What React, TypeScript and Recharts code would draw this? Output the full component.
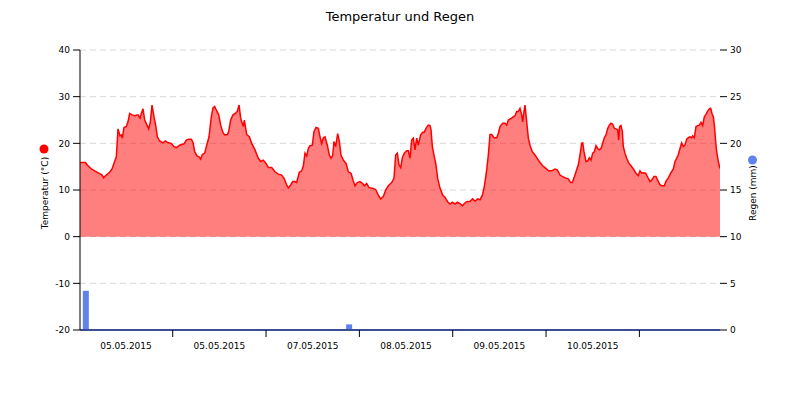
import React from "react";
import { ComposedChart, Area, Bar, XAxis, YAxis, CartesianGrid, ReferenceLine } from "recharts";

const chartTitle = "Temperatur und Regen";
const tempLabel = "Temperatur (°C)";
const rainLabel = "Regen (mm)";

// hours since start of the record
const tempHours = [
  0, 1.37, 2.06, 2.92, 4.2, 5.06, 5.66, 6.09, 6.77, 7.63,
  8.23, 8.91, 9.34, 9.77, 10.29, 10.63, 10.89, 11.31, 11.91, 12.34,
  12.77, 13.37, 14.06, 14.91, 15.43, 15.77, 16.2, 16.63, 17.23, 17.66,
  18.09, 18.51, 19.03, 19.46, 19.89, 20.49, 21.34, 21.94, 22.63, 23.49,
  24.17, 24.77, 25.63, 26.74, 27.34, 27.94, 28.63, 29.06, 29.49, 30.09,
  30.6, 31.03, 31.46, 32.06, 32.49, 33.17, 33.77, 34.2, 34.63, 35.06,
  35.66, 36.17, 36.77, 37.2, 37.89, 38.23, 38.74, 39.34, 39.94, 40.46,
  40.9, 41.3, 41.57, 42, 42.26, 42.86, 43.54, 44.14, 45, 45.86,
  46.46, 47.14, 47.83, 48.43, 49.29, 50.14, 51, 51.86, 52.46, 53.14,
  53.57, 54, 54.69, 55.29, 55.71, 56.4, 57, 57.43, 57.86, 58.29,
  58.71, 59.14, 59.74, 60.17, 60.69, 61.29, 61.71, 62.14, 62.57, 63,
  63.6, 64.11, 64.54, 64.97, 65.31, 65.74, 66.26, 66.69, 67.11, 67.71,
  68.4, 69, 69.69, 70.29, 70.71, 71.31, 72, 72.69, 73.11, 73.71,
  74.31, 75.17, 76.03, 76.71, 77.31, 78, 78.6, 79.29, 80.14, 80.74,
  81.17, 81.6, 82.03, 82.46, 82.89, 83.4, 84, 84.43, 84.86, 85.29,
  85.71, 86.14, 86.57, 87, 87.6, 88.11, 88.54, 88.97, 89.57, 90,
  90.26, 90.6, 91.11, 91.54, 91.97, 92.57, 93.26, 93.86, 94.54, 95.14,
  95.74, 96.43, 97.03, 97.71, 98.31, 98.83, 99.43, 100.29, 100.97, 101.57,
  102.26, 102.86, 103.46, 103.97, 104.57, 105, 105.43, 105.86, 106.46, 107.14,
  107.57, 108, 108.69, 109.29, 109.71, 110.14, 111, 111.43, 111.86, 112.29,
  112.71, 113.14, 113.57, 113.83, 114.17, 114.43, 114.86, 115.29, 115.71, 116.31,
  117, 117.69, 118.29, 118.97, 119.57, 120.43, 121.29, 122.14, 122.74, 123.43,
  124.03, 124.97, 125.57, 126.17, 126.6, 127.03, 127.54, 128.14, 128.57, 129,
  129.26, 129.6, 130.11, 130.54, 130.97, 131.4, 131.83, 132.26, 132.69, 133.11,
  133.54, 133.97, 134.4, 134.83, 135.26, 135.69, 136.11, 136.54, 136.97, 137.4,
  137.83, 138.26, 138.51, 138.77, 139.11, 139.46, 139.71, 140.14, 140.57, 141.17,
  141.69, 142.29, 142.97, 143.57, 144, 144.43, 144.86, 145.46, 145.89, 146.57,
  147, 147.6, 148.11, 148.54, 149.14, 149.74, 150.26, 150.69, 151.29, 151.89,
  152.57, 153, 153.43, 153.86, 154.29, 154.71, 155.14, 155.57, 156, 156.43,
  156.86, 157.29, 157.54, 157.97, 158.4, 158.83, 159.26, 159.69, 160.11, 160.54,
  160.97, 161.4, 161.83, 162.17, 162.51, 162.86, 163.11, 163.46, 163.71, 164.14,
  164.57,
];

// temperature in °C
const tempValues = [
  15.9, 15.9, 15.2, 14.5, 13.9, 13.5, 13.2, 12.6, 13.2, 13.8,
  14.5, 16.1, 17.1, 23.1, 21.6, 21.8, 21.1, 23.4, 23.6, 24.6,
  26.4, 26.1, 25.9, 26.1, 25.4, 26.4, 27.4, 25, 23.9, 23.1,
  24.6, 28.2, 25.7, 23.9, 21.4, 20.5, 20.1, 20.5, 20.1, 20,
  19.3, 19.1, 19.6, 19.9, 20.7, 20.9, 20.9, 20.2, 18.2, 17.3,
  17.1, 16.6, 17.6, 17.9, 19.3, 21.4, 25.7, 27.6, 27.9, 27.1,
  26.1, 23.9, 22.3, 21.8, 21.9, 22.5, 25, 26.1, 26.4, 26.9,
  28.2, 25.5, 24.6, 23.6, 25, 21.9, 21.4, 20, 18.6, 16.8,
  16.1, 16.4, 15.7, 14.8, 14.8, 13.9, 13.4, 13.2, 12.5, 11.1,
  10.4, 10.9, 11.8, 11.8, 11.6, 13.8, 14.1, 15.2, 17.9, 17.3,
  18.9, 19.5, 19.6, 22.5, 23.4, 23.2, 21.4, 20, 21.2, 21.4,
  19.6, 17.5, 16.8, 17.4, 20.4, 19.3, 22.1, 20.4, 17.5, 16.4,
  15.7, 13.9, 13.6, 11.9, 10.9, 11.6, 11.8, 11.4, 10.9, 11.4,
  10.5, 10.4, 10.1, 8.9, 8.1, 8.6, 10, 10.9, 11.6, 12.5,
  17.5, 17.9, 15.4, 14.8, 16.9, 17.9, 18.4, 18.4, 16.8, 20.7,
  21.1, 18.6, 21.1, 19.6, 21.8, 22.4, 22.4, 23.2, 23.9, 23.8,
  22.9, 19.3, 17.1, 15.4, 12.5, 10.4, 8.9, 8.4, 7.5, 7,
  7.4, 7, 7.4, 7.1, 6.6, 7.1, 7.5, 7.6, 8.1, 7.6,
  8.1, 7.9, 8.9, 10.7, 14.3, 17.5, 21.9, 21.9, 21.2, 21.2,
  22.1, 23.6, 24.3, 24.3, 23.9, 25, 25.4, 25.7, 25.9, 26.8,
  26.8, 27.5, 26.1, 24.6, 26.8, 28.2, 24.6, 21.1, 19.6, 18.2,
  17.5, 16.6, 15.9, 15.2, 14.8, 14.1, 14.1, 14.5, 14.3, 13.2,
  12.9, 12.5, 12.4, 11.6, 11.6, 12.6, 13.9, 15.4, 17.5, 20,
  20.1, 18.2, 16.1, 16.2, 16.9, 16.4, 17.9, 18.2, 19.5, 18.9,
  18.6, 18.9, 20, 21.2, 21.8, 23.2, 23.9, 24.3, 24.1, 23.2,
  23.1, 22.9, 20.7, 23.6, 23.8, 22.5, 19.3, 17.9, 16.8, 15.7,
  15.2, 14.5, 13.6, 13.1, 14.1, 13.6, 13.7, 13.6, 12.9, 11.8,
  12.1, 12.9, 12.9, 12.1, 11.1, 10.9, 10.9, 11.9, 12.6, 13.6,
  14.5, 16.1, 16.8, 17.6, 18.9, 20.1, 19.3, 19.6, 20.9, 21.2,
  21.4, 21.2, 21.6, 21.2, 23.6, 23.8, 23.9, 24.5, 23.8, 25.7,
  26.2, 26.9, 27.4, 27.5, 26.4, 25.7, 23.9, 20.4, 18.2, 16.1,
  14.6,
];

const rainHours = [1.5, 69.2];
const rainValues = [4.2, 0.6];

const dayTickHours = [23.84, 47.84, 71.84, 95.84, 119.84, 143.84];
const dayTickLabels = ["05.05.2015", "05.05.2015", "07.05.2015", "08.05.2015", "09.05.2015", "10.05.2015"];
const tempTicks = [-20, -10, 0, 10, 20, 30, 40];
const rainTicks = [0, 5, 10, 15, 20, 25, 30];

const rows: any[] = [
  ...tempHours.map((t, i) => ({ t, temp: tempValues[i] })),
  ...rainHours.map((t, i) => ({ t, rain: rainValues[i] })),
].sort((a, b) => a.t - b.t);

const FONT = "'DejaVu Sans', Verdana, sans-serif";
const W = 800;
const H = 400;
const PLOT_LEFT = 80;
const PLOT_RIGHT = 720;
const DOMAIN_END = 164.57;
const halfDayPx = ((PLOT_RIGHT - PLOT_LEFT) / DOMAIN_END) * 12;
const RAIN_COLOR = "#5f82ec";
const BAR_W = 6;

const XTick = (props: any) => {
  const { x, y, payload } = props;
  const idx = dayTickHours.indexOf(payload.value);
  return (
    <text x={x - halfDayPx} y={y + 10} textAnchor="middle" fontSize={9} fontFamily={FONT} fill="#000">
      {dayTickLabels[idx]}
    </text>
  );
};

const RainBar = (props: any) => {
  const { x, y, width, height } = props;
  if (height == null || isNaN(height) || height <= 0) return <g />;
  const cx = x + (width || 0) / 2;
  return <rect x={cx - BAR_W / 2} y={y} width={BAR_W} height={height} fill={RAIN_COLOR} />;
};

const LeftLabel = (props: any) => {
  const vb = props.viewBox || { x: 20, y: 50, width: 60, height: 280 };
  const cy = vb.y + vb.height / 2;
  const cx = vb.x + 25;
  return (
    <g>
      <circle cx={cx - 1} cy={cy - 41} r={4.5} fill="#ff0000" />
      <text
        transform={`translate(${cx}, ${cy + 3}) rotate(-90)`}
        textAnchor="middle"
        dominantBaseline="central"
        fontSize={9}
        fontFamily={FONT}
        fill="#000"
      >
        {tempLabel}
      </text>
    </g>
  );
};

const RightLabel = (props: any) => {
  const vb = props.viewBox || { x: 720, y: 50, width: 60, height: 280 };
  const cy = vb.y + vb.height / 2;
  const cx = vb.x + 32.5;
  return (
    <g>
      <circle cx={cx} cy={cy - 30} r={4.5} fill={RAIN_COLOR} />
      <text
        transform={`translate(${cx}, ${cy + 3}) rotate(-90)`}
        textAnchor="middle"
        dominantBaseline="central"
        fontSize={9}
        fontFamily={FONT}
        fill="#000"
      >
        {rainLabel}
      </text>
    </g>
  );
};

export default function App() {
  return (
    <div style={{ position: "absolute", left: 0, top: 0, width: W, height: H, background: "#fff" }}>
      <div
        style={{
          position: "absolute",
          left: 0,
          top: 8,
          width: W,
          textAlign: "center",
          fontFamily: FONT,
          fontSize: 13,
          color: "#000",
          lineHeight: "18px",
        }}
      >
        {chartTitle}
      </div>
      <ComposedChart
        width={W}
        height={H}
        data={rows}
        margin={{ top: 50, right: 20, bottom: 40, left: 20 }}
        style={{ position: "absolute", left: 0, top: 0 }}
      >
        <CartesianGrid yAxisId="temp" vertical={false} stroke="#d8d8d8" strokeDasharray="6 4" />
        <ReferenceLine yAxisId="rain" y={0} stroke={RAIN_COLOR} strokeWidth={2} />
        <XAxis
          dataKey="t"
          type="number"
          domain={[0, DOMAIN_END]}
          ticks={dayTickHours}
          tick={<XTick />}
          tickSize={7}
          height={30}
          axisLine={{ stroke: "#1a1a3a" }}
          tickLine={{ stroke: "#000" }}
          allowDataOverflow
        />
        <YAxis
          yAxisId="temp"
          orientation="left"
          domain={[-20, 40]}
          ticks={tempTicks}
          width={60}
          tickSize={7}
          tickMargin={3}
          axisLine={{ stroke: "#000" }}
          tickLine={{ stroke: "#000" }}
          tick={{ fontSize: 9, fontFamily: FONT, fill: "#000" }}
          label={{ content: <LeftLabel /> }}
        />
        <YAxis
          yAxisId="rain"
          orientation="right"
          domain={[0, 30]}
          ticks={rainTicks}
          width={60}
          tickSize={7}
          tickMargin={3}
          axisLine={false}
          tickLine={{ stroke: "#000" }}
          tick={{ fontSize: 9, fontFamily: FONT, fill: "#000", textAnchor: "start" }}
          label={{ content: <RightLabel /> }}
        />
        <Area
          yAxisId="temp"
          dataKey="temp"
          type="linear"
          baseValue={0}
          stroke="#ff0000"
          strokeWidth={1.5}
          fill="#ff0000"
          fillOpacity={0.5}
          connectNulls
          dot={false}
          activeDot={false}
          isAnimationActive={false}
        />
        <Bar
          yAxisId="rain"
          dataKey="rain"
          fill={RAIN_COLOR}
          shape={<RainBar />}
          isAnimationActive={false}
        />
      </ComposedChart>
    </div>
  );
}
